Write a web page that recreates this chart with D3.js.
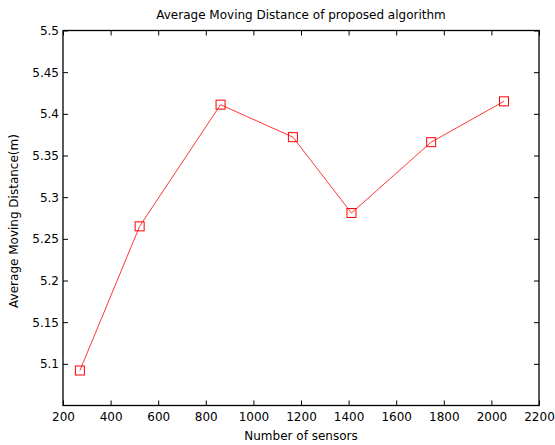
<!DOCTYPE html>
<html><head><meta charset="utf-8">
<script src="https://cdn.jsdelivr.net/npm/d3@7"></script>
<style>body{margin:0;background:#fff}svg{display:block}text{font-family:"DejaVu Sans","Liberation Sans",Arial,sans-serif}</style>
</head><body>
<script>
const sensors = [271, 522, 862, 1166, 1412, 1747, 2053];
const distance = [5.092, 5.265, 5.411, 5.372, 5.281, 5.366, 5.415];
const xTicks = [200,400,600,800,1000,1200,1400,1600,1800,2000,2200];
const yTicks = [5.1,5.15,5.2,5.25,5.3,5.35,5.4,5.45,5.5];
const title = "Average Moving Distance of proposed algorithm";
const xLabel = "Number of sensors";
const yLabel = "Average Moving Distance(m)";

const W=555,H=445, L=63, R=539, T=30.5, B=405.5;
const svg=d3.select("body").append("svg").attr("width",W).attr("height",H);
svg.append("rect").attr("width",W).attr("height",H).attr("fill","#fff");
const x=d3.scaleLinear().domain([200,2200]).range([L,R]);
const y=d3.scaleLinear().domain([5.05,5.5]).range([B,T]);
const tl=5;
const fmt=d=>String(+d.toFixed(2));
const ax=(g)=>{g.select(".domain").remove();g.selectAll("text").attr("font-size",12).attr("fill","#000");g.selectAll("line").attr("stroke","#000");};
svg.append("g").attr("transform",`translate(0,${B})`).call(d3.axisBottom(x).tickValues(xTicks).tickSize(-tl).tickPadding(7).tickFormat(d3.format("d"))).call(ax);
svg.append("g").attr("transform",`translate(0,${T})`).call(d3.axisTop(x).tickValues(xTicks).tickSize(-tl).tickFormat("")).call(ax);
svg.append("g").attr("transform",`translate(${L},0)`).call(d3.axisLeft(y).tickValues(yTicks).tickSize(-tl).tickPadding(4).tickFormat(fmt)).call(ax);
svg.append("g").attr("transform",`translate(${R},0)`).call(d3.axisRight(y).tickValues(yTicks).tickSize(-tl).tickFormat("")).call(ax);
svg.append("rect").attr("x",L).attr("y",T).attr("width",R-L).attr("height",B-T).attr("fill","none").attr("stroke","#000").attr("stroke-width",1.3);

const pts=sensors.map((s,i)=>[s,distance[i]]);
svg.append("path").datum(pts).attr("fill","none").attr("stroke","#ff2020").attr("stroke-width",0.9)
  .attr("d",d3.line().x(d=>x(d[0])).y(d=>y(d[1])));
svg.selectAll(".m").data(pts).enter().append("rect")
  .attr("x",d=>x(d[0])-4.5).attr("y",d=>y(d[1])-4.5).attr("width",9).attr("height",9)
  .attr("fill","none").attr("stroke","#ff0000").attr("stroke-width",1);

svg.append("text").attr("x",(L+R)/2).attr("y",18.5).attr("text-anchor","middle").attr("font-size",12).text(title);
svg.append("text").attr("x",(L+R)/2).attr("y",440).attr("text-anchor","middle").attr("font-size",12).text(xLabel);
svg.append("text").attr("transform",`translate(18,221) rotate(-90)`).attr("text-anchor","middle").attr("font-size",12).text(yLabel);
</script>
</body></html>
